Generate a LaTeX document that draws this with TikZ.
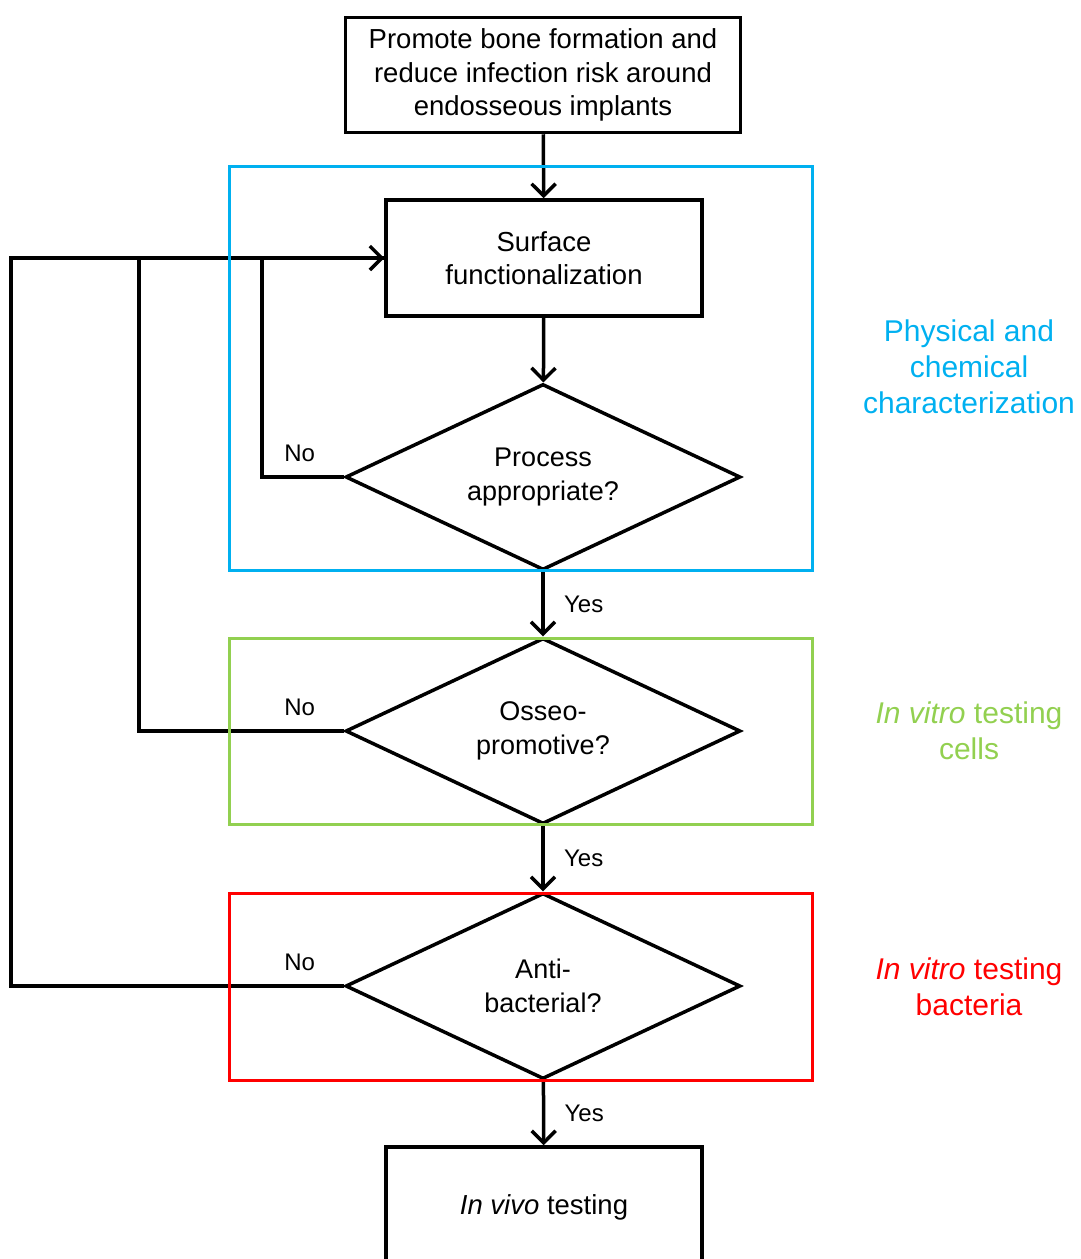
\documentclass[tikz,border=0pt]{standalone}
\usepackage{fontspec}
\setmainfont{Liberation Sans}
\usetikzlibrary{shapes.geometric,arrows.meta}
\definecolor{physblue}{RGB}{0,176,240}
\definecolor{cellgreen}{RGB}{146,208,80}
\definecolor{bactred}{RGB}{255,0,0}

\begin{document}
\begin{tikzpicture}[x=1pt,y=-1pt,
  stepbox/.style={draw,line width=3.5pt,fill=white,align=center,inner sep=0pt,
    font=\fontsize{27.5}{33.5}\selectfont},
  question/.style={diamond,draw,line width=3.5pt,fill=white,align=center,inner sep=0pt,
    aspect=2.12,minimum width=395pt,minimum height=186pt,font=\fontsize{27}{34}\selectfont},
  flow/.style={line width=3.5pt,-{Straight Barb[length=12pt,width=24pt]}},
  loop/.style={line width=3.5pt},
  answer/.style={font=\fontsize{24}{28}\selectfont},
  stage/.style={line width=3pt},
  stagelabel/.style={align=center,font=\fontsize{30}{36}\selectfont}]

\clip (0,0) rectangle (1081,1259);

% boxes and decisions
\node[stepbox,minimum width=395pt,minimum height=115pt] (goal) at (543,75)
  {Promote bone formation and\\reduce infection risk around\\endosseous implants};
\node[stepbox,minimum width=316pt,minimum height=116pt] (surf) at (544,258)
  {Surface\\functionalization};
\node[question] (proc) at (543,477) {Process\\appropriate?};
\node[question] (osseo) at (543,731) {Osseo-\\promotive?};
\node[question] (anti) at (543,986) {Anti-\\bacterial?};
\node[stepbox,minimum width=316pt,minimum height=120pt] (vivo) at (544,1207)
  {\textit{In vivo} testing};

% main flow
\draw[flow] (goal) -- (surf);
\draw[flow] (surf) -- (proc);
\draw[flow] (proc) -- node[answer,right,xshift=16pt] {Yes} (osseo);
\draw[flow] (osseo) -- node[answer,right,xshift=16pt] {Yes} (anti);
\draw[flow] (anti) -- node[answer,right,xshift=16pt] {Yes} (vivo);

% feedback loops
\draw[loop] (proc.west) node[answer,anchor=south,xshift=-44pt,yshift=10pt] {No}
  -- ++(-82,0) |- (surf.west);
\draw[loop] (osseo.west) node[answer,anchor=south,xshift=-44pt,yshift=10pt] {No}
  -- ++(-205,0) |- (surf.west);
\draw[flow] (anti.west) node[answer,anchor=south,xshift=-44pt,yshift=10pt] {No}
  -- ++(-333,0) |- (surf.west);

% stages
\draw[stage,physblue] (229,166) rectangle (812,570);
\draw[stage,cellgreen] (229,638) rectangle (812,824);
\draw[stage,bactred] (229,893) rectangle (812,1080);

\node[stagelabel,physblue] (physlabel) at (969,367)
  {Physical and\\chemical\\characterization};
\node[stagelabel,cellgreen] (celllabel) at (969,731)
  {\textit{In vitro} testing\\cells};
\node[stagelabel,bactred] (bactlabel) at (969,987)
  {\textit{In vitro} testing\\bacteria};

\end{tikzpicture}
\end{document}
